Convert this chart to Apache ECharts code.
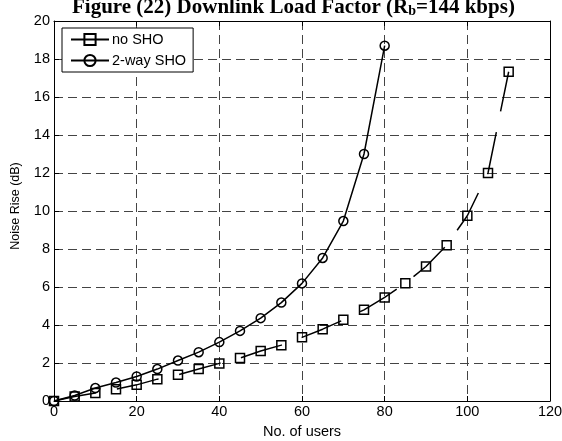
<!DOCTYPE html>
<html>
<head>
<meta charset="utf-8">
<script src="https://cdn.jsdelivr.net/npm/echarts@6/dist/echarts.min.js"></script>
<style>
html,body{margin:0;padding:0;background:#fff;}
#chart{width:562px;height:441px;}
</style>
</head>
<body>
<div id="chart"></div>
<script>
// ---- data ----
const usersNoSHO = [0,5,10,15,20,25,30,35,40,45,50,55,60,65,70,75,80,85,90,95,100,105,110];
const noSHO = [0,0.24,0.42,0.62,0.85,1.15,1.38,1.68,1.98,2.26,2.63,2.94,3.35,3.78,4.27,4.80,5.45,6.2,7.08,8.2,9.75,12.0,17.33];
const usersSHO = [0,5,10,15,20,25,30,35,40,45,50,55,60,65,70,75,80];
const twoWaySHO = [0,0.29,0.68,0.97,1.29,1.68,2.13,2.57,3.10,3.69,4.36,5.18,6.19,7.53,9.47,13.0,18.7];
const seriesNames = ['no SHO', '2-way SHO'];
const xTicks = [0,20,40,60,80,100,120];
const yTicks = [0,2,4,6,8,10,12,14,16,18,20];

const FONT = "'Liberation Sans', Arial, Helvetica, sans-serif";
const chart = echarts.init(document.getElementById('chart'), null, {renderer: 'canvas'});

const pairs = (xs, ys) => xs.map((x, i) => [x, ys[i]]);

const gridDash = {color: '#444', width: 1, type: [9, 5]};
const baseX = {
  type: 'value', min: xTicks[0], max: xTicks[xTicks.length - 1], interval: xTicks[1] - xTicks[0],
  axisLine: {show: true, onZero: false, lineStyle: {color: '#000', width: 1}},
  axisTick: {show: true, inside: true, length: 5, lineStyle: {color: '#000'}}
};
const baseY = {
  type: 'value', min: yTicks[0], max: yTicks[yTicks.length - 1], interval: yTicks[1] - yTicks[0],
  axisLine: {show: true, onZero: false, lineStyle: {color: '#000', width: 1}},
  axisTick: {show: true, inside: true, length: 5, lineStyle: {color: '#000'}}
};

chart.setOption({
  animation: false,
  backgroundColor: '#fff',
  title: {
    text: '{a|Figure (22) Downlink Load Factor (R}{s|b}{a|=144 kbps)}',
    left: 72, top: -6, padding: 0,
    textStyle: {
      rich: {
        a: {fontFamily: "'Liberation Serif', 'Times New Roman', serif", fontWeight: 'bold', fontSize: 21, color: '#000', lineHeight: 24, verticalAlign: 'bottom'},
        s: {fontFamily: "'Liberation Serif', 'Times New Roman', serif", fontWeight: 'bold', fontSize: 14, color: '#000', lineHeight: 10, verticalAlign: 'bottom'}
      }
    }
  },
  legend: {
    data: seriesNames,
    orient: 'vertical',
    left: 62, top: 28,
    padding: [4, 7, 4, 8],
    itemWidth: 38, itemHeight: 14, itemGap: 6,
    backgroundColor: '#fff', borderColor: '#000', borderWidth: 1, borderRadius: 0,
    textStyle: {fontFamily: FONT, fontSize: 14.5, color: '#000', padding: [0,0,0,-2]},
    lineStyle: {type: 'solid'}
  },
  grid: {left: 54, right: 12, top: 21, bottom: 40, containLabel: false, outerBoundsMode: 'none', show: false},
  xAxis: [
    Object.assign({}, baseX, {
      position: 'bottom',
      name: 'No. of users', nameLocation: 'middle', nameGap: 23,
      nameTextStyle: {fontFamily: FONT, fontSize: 14.5, color: '#000'},
      axisLabel: {show: true, margin: 3, fontFamily: FONT, fontSize: 14.5, color: '#000'},
      splitLine: {show: true, lineStyle: gridDash}
    }),
    Object.assign({}, baseX, {
      position: 'top', axisLabel: {show: false}, splitLine: {show: false}
    })
  ],
  yAxis: [
    Object.assign({}, baseY, {
      position: 'left',
      name: 'Noise Rise (dB)', nameLocation: 'middle', nameGap: 32,
      nameTextStyle: {fontFamily: FONT, fontSize: 12.5, color: '#000', padding: [0, 0, 0, 10]},
      axisLabel: {show: true, margin: 4, fontFamily: FONT, fontSize: 14.5, color: '#000'},
      splitLine: {show: true, lineStyle: gridDash}
    }),
    Object.assign({}, baseY, {
      position: 'right', axisLabel: {show: false}, splitLine: {show: false}
    })
  ],
  series: [
    {
      name: seriesNames[0], type: 'line', xAxisIndex: 0, yAxisIndex: 0,
      data: pairs(usersNoSHO, noSHO),
      symbol: 'rect', symbolSize: 9, showAllSymbol: true,
      lineStyle: {color: '#000', width: 1.5, type: [43, 21]},
      itemStyle: {color: 'rgba(255,255,255,0)', borderColor: '#000', borderWidth: 1.5},
      emphasis: {disabled: true}
    },
    {
      name: seriesNames[1], type: 'line', xAxisIndex: 0, yAxisIndex: 0,
      data: pairs(usersSHO, twoWaySHO),
      symbol: 'circle', symbolSize: 9, showAllSymbol: true,
      lineStyle: {color: '#000', width: 1.5, type: 'solid'},
      itemStyle: {color: 'rgba(255,255,255,0)', borderColor: '#000', borderWidth: 1.5},
      emphasis: {disabled: true}
    }
  ]
});
</script>
</body>
</html>
